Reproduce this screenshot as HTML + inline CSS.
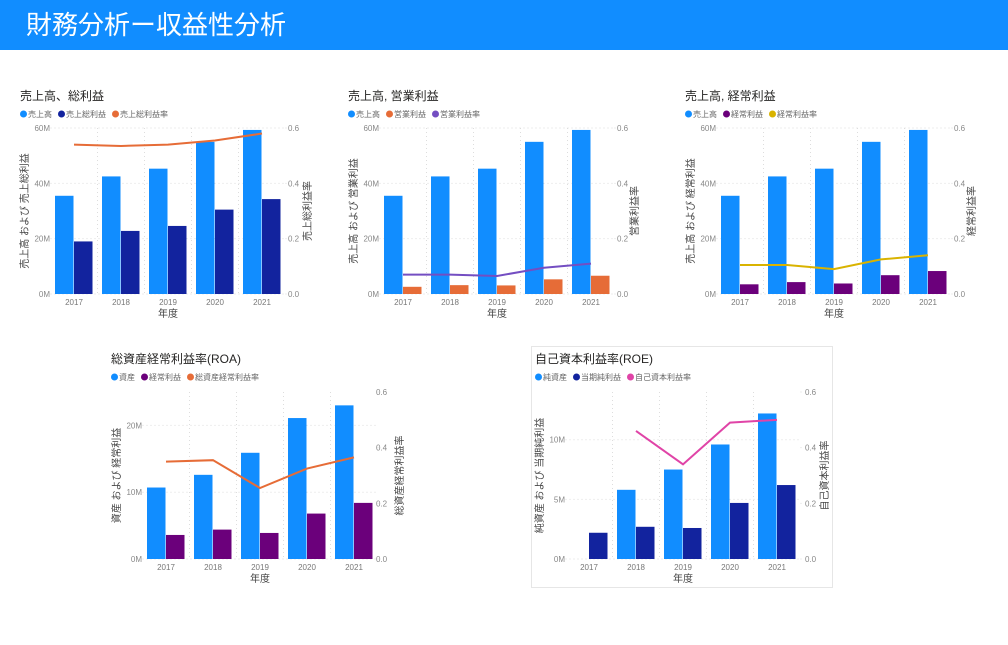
<!DOCTYPE html>
<html><head><meta charset="utf-8">
<style>
body{margin:0;width:1008px;height:645px;background:#fff;overflow:hidden;font-family:"Liberation Sans","Noto Sans CJK JP",sans-serif;}
#hdr{position:absolute;left:0;top:0;width:1008px;height:50px;background:#118dff;}
#hdr span{position:absolute;left:26px;top:5px;color:#fff;font-size:26px;font-family:"Noto Sans CJK JP",sans-serif;}
svg{position:absolute;left:0;top:0;}
</style></head><body>
<div id="hdr"><span>財務分析ー収益性分析</span></div>
<div style="position:absolute;left:531px;top:346px;width:300px;height:240px;border:1px solid #e6e6e6;"></div>
<svg id="s" width="1008" height="645" xmlns="http://www.w3.org/2000/svg" font-family="Liberation Sans, Noto Sans CJK JP, sans-serif"></svg>
<script>
const years=["2017","2018","2019","2020","2021"];
const c1Sales=[35.5,42.5,45.3,55,59.3];
const c1Gross=[19,22.8,24.6,30.5,34.3];
const c1Rate=[0.54,0.535,0.54,0.555,0.58];
const c2Sales=[35.5,42.5,45.3,55,59.3];
const c2Op=[2.6,3.2,3.1,5.3,6.6];
const c2Rate=[0.07,0.07,0.065,0.095,0.11];
const c3Sales=[35.5,42.5,45.3,55,59.3];
const c3Ord=[3.5,4.3,3.8,6.8,8.3];
const c3Rate=[0.105,0.105,0.09,0.125,0.14];
const c4Assets=[10.7,12.6,15.9,21.1,23];
const c4Ord=[3.6,4.4,3.9,6.8,8.4];
const c4Rate=[0.35,0.355,0.255,0.325,0.365];
const c5Net=[0,5.8,7.5,9.6,12.2];
const c5Inc=[2.2,2.7,2.6,4.7,6.2];
const c5Rate=[null,0.46,0.34,0.49,0.5];
const leftTicks1=[0,20,40,60];
const leftTicks4=[0,10,20];
const leftTicks5=[0,5,10];
const rightTicks=[0,0.2,0.4,0.6];

const S=document.getElementById('s');
function el(t,a,txt,p){const e=document.createElementNS('http://www.w3.org/2000/svg',t);for(const k in a)e.setAttribute(k,a[k]);if(txt!=null)e.textContent=txt;(p||S).appendChild(e);return e;}

function chart(o){
  const g=el('g',{});
  
  
  const yL=v=>o.bottom-(v/o.lmax)*(o.bottom-o.top);
  const yR=v=>o.bottom-(v/0.6)*(o.bottom-o.top);
  const xC=i=>o.x0+i*47;
  const pl=o.x0-23.5, pr=o.x0+4*47+23.5;
  // grid
  o.lt.forEach(t=>{el('line',{x1:pl,x2:pr,y1:yL(t),y2:yL(t),stroke:'#ddd','stroke-dasharray':'1 3'},null,g);
    const tl=el('text',{x:o.x0-24,y:yL(t)+3,'font-size':8,fill:'#888','text-anchor':'end'},t+'M',g);
    });
  rightTicks.forEach(t=>{if(yL(0)-yR(t)>=0){el('line',{x1:pr,x2:pr+4,y1:yR(t),y2:yR(t),stroke:'#ddd','stroke-dasharray':'1 3'},null,g);}
    const tl=el('text',{x:o.rx,y:yR(t)+3,'font-size':8,fill:'#888'},t.toFixed(1),g);
    });
  if(o.grid06) el('line',{x1:pl,x2:pr,y1:o.top,y2:o.top,stroke:'#ddd','stroke-dasharray':'1 3'},null,g);
  for(let i=0;i<=5;i++){const x=pl+i*47;if(i>0&&i<5)el('line',{x1:x,x2:x,y1:o.top,y2:o.bottom,stroke:'#ddd','stroke-dasharray':'1 3'},null,g);}
  years.forEach((y,i)=>{const t=el('text',{x:xC(i),y:o.bottom+11,'font-size':8,fill:'#777','text-anchor':'middle'},y,g);
    });
  // bars
  o.a.forEach((v,i)=>{if(v>0){const r=el('rect',{x:xC(i)-19,y:yL(v),width:18.5,height:yL(0)-yL(v),fill:'#118dff'},null,g);
    }});
  o.b.forEach((v,i)=>{const r=el('rect',{x:xC(i),y:yL(v),width:18.5,height:yL(0)-yL(v),fill:o.bc},null,g);
    });
  // line
  let d='';o.r.forEach((v,i)=>{if(v==null)return;d+=(d?'L':'M')+xC(i)+','+yR(v);});
  const ln=el('path',{d:d,fill:'none',stroke:o.lc,'stroke-width':2},null,g);
  
  // titles
  const ti=el('text',{x:o.tx,y:o.ty,'font-size':12,fill:'#252423'},o.title,g);
  
  let lx=o.tx;
  o.leg.forEach((L,k)=>{const cols=['#118dff',o.bc,o.lc];
    el('circle',{cx:lx+3.5,cy:o.ty+14,r:3.5,fill:cols[k]},null,g);
    const t=el('text',{x:lx+8,y:o.ty+17,'font-size':8,fill:'#666'},L,g);
    
    lx+=10+L.length*8+4;});
  const mid=(o.top+o.bottom)/2;
  const yt=el('text',{x:0,y:0,'font-size':10,fill:'#444','text-anchor':'middle',transform:`translate(${o.ylx},${mid}) rotate(-90)`},o.yl,g);
  
  const rt=el('text',{x:0,y:0,'font-size':10,fill:'#444','text-anchor':'middle',transform:`translate(${o.yrx},${mid}) rotate(-90)`},o.yr,g);
  
  const xt=el('text',{x:o.x0+94,y:o.bottom+23,'font-size':10,fill:'#444','text-anchor':'middle'},'年度',g);
  
}
chart({name:'chart-gross-profit',x0:74,top:128,bottom:294,lmax:60,lt:leftTicks1,rx:288,a:c1Sales,b:c1Gross,r:c1Rate,bc:'#12239e',lc:'#e66c37',la:'sales',lb:'gross',
 title:'売上高、総利益',tx:20,ty:100,leg:['売上高','売上総利益','売上総利益率'],ylx:28,yrx:311,yl:'売上高 および 売上総利益',yr:'売上総利益率',grid06:true});
chart({name:'chart-operating-profit',x0:403,top:128,bottom:294,lmax:60,lt:leftTicks1,rx:617,a:c2Sales,b:c2Op,r:c2Rate,bc:'#e66c37',lc:'#744ec2',la:'sales',lb:'op',
 title:'売上高, 営業利益',tx:348,ty:100,leg:['売上高','営業利益','営業利益率'],ylx:357,yrx:638,yl:'売上高 および 営業利益',yr:'営業利益率',grid06:true});
chart({name:'chart-ordinary-profit',x0:740,top:128,bottom:294,lmax:60,lt:leftTicks1,rx:954,a:c3Sales,b:c3Ord,r:c3Rate,bc:'#6b007b',lc:'#d9b300',la:'sales',lb:'ord',
 title:'売上高, 経常利益',tx:685,ty:100,leg:['売上高','経常利益','経常利益率'],ylx:694,yrx:975,yl:'売上高 および 経常利益',yr:'経常利益率',grid06:true});
chart({name:'chart-roa',x0:166,top:392,bottom:559,lmax:25,lt:leftTicks4,rx:376,a:c4Assets,b:c4Ord,r:c4Rate,bc:'#6b007b',lc:'#e66c37',la:'assets',lb:'ord',
 title:'総資産経常利益率(ROA)',tx:111,ty:363,leg:['資産','経常利益','総資産経常利益率'],ylx:120,yrx:403,yl:'資産 および 経常利益',yr:'総資産経常利益率',grid06:false});
chart({name:'chart-roe',x0:589,top:392,bottom:559,lmax:14,lt:leftTicks5,rx:805,a:c5Net,b:c5Inc,r:c5Rate,bc:'#12239e',lc:'#e044a7',la:'net-assets',lb:'net-income',
 title:'自己資本利益率(ROE)',tx:535,ty:363,leg:['純資産','当期純利益','自己資本利益率'],ylx:543,yrx:828,yl:'純資産 および 当期純利益',yr:'自己資本利益率',grid06:false});
</script>
</body></html>
